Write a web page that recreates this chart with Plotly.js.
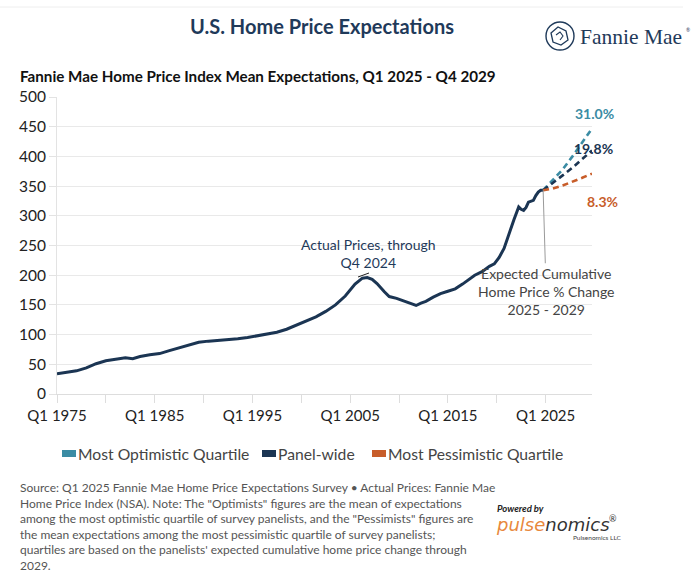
<!DOCTYPE html>
<html>
<head>
<meta charset="utf-8">
<script src="https://cdn.plot.ly/plotly-3.0.1.min.js"></script>
<style>
  html, body { margin: 0; padding: 0; background: #ffffff; }
  #chart { width: 699px; height: 579px; }
</style>
</head>
<body>
<div id="chart"></div>
<script>
// ---------------- DATA ----------------
// Actual Fannie Mae Home Price Index (NSA) (x = year + (quarter-1)/4)
const histYears = [1975.0, 1976.0, 1977.0, 1978.0, 1979.0, 1980.0, 1981.0, 1982.0, 1982.75, 1983.5,
  1984.5, 1985.5, 1986.5, 1987.5, 1988.5, 1989.5, 1990.5, 1991.5, 1992.5, 1993.5,
  1994.5, 1995.5, 1996.5, 1997.5, 1998.5, 1999.5, 2000.5, 2001.5, 2002.5, 2003.5,
  2004.5, 2005.5, 2006.25, 2006.75, 2007.25, 2007.75, 2008.5, 2009.0, 2009.75, 2010.5,
  2011.0, 2011.75, 2012.25, 2012.75, 2013.5, 2014.25, 2015.0, 2015.75, 2016.5, 2017.25,
  2017.75, 2018.5, 2019.25, 2019.75, 2020.25, 2020.75, 2021.25, 2021.75, 2022.25, 2022.5,
  2022.75, 2023.0, 2023.25, 2023.75, 2024.0, 2024.25, 2024.5, 2024.75];
const histValues = [34, 36, 39, 44, 51, 56, 59, 61, 59.5, 63,
  66, 68, 73, 78, 82, 87, 89, 90, 91, 93,
  95, 98, 100, 104, 109, 116, 123, 130, 139, 150,
  165, 185, 195, 196, 193, 186, 172, 164, 161, 156,
  153, 149, 153, 156, 163, 169, 173, 177, 185, 194,
  200, 206, 215, 219, 230, 245, 270, 293, 315, 311,
  309, 314, 323, 326, 334, 340, 343, 343];

// Expectations Q4 2024 -> Q4 2029
const fcYears = [2024.75, 2025.75, 2026.75, 2027.75, 2028.75, 2029.75];
const optimisticValues = [343, 360, 378, 400, 423, 447];
const panelValues = [343, 355, 368, 381, 395, 410];
const pessimisticValues = [343, 346, 351, 357, 364, 371];

const seriesNames = ["Most Optimistic Quartile", "Panel-wide", "Most Pessimistic Quartile"];
const pctLabels = ["31.0%", "19.8%", "8.3%"];

const tickYears = [1975, 1980, 1985, 1990, 1995, 2000, 2005, 2010, 2015, 2020, 2025];
const tickLabels = ["Q1 1975", "", "Q1 1985", "", "Q1 1995", "", "Q1 2005", "", "Q1 2015", "", "Q1 2025"];

// ---------------- STYLE ----------------
const TEAL = "#3b8ca4", NAVY = "#1b3553", ORANGE = "#c85d2a";
const colors = [TEAL, NAVY, ORANGE];
const FONT = "Lato, 'Source Sans Pro', Roboto, sans-serif";

const W = 699, H = 579;
const M = { l: 57, r: 107, t: 97, b: 185 };
const PW = W - M.l - M.r, PH = H - M.t - M.b;
const px = v => (v - M.l) / PW;           // pixel x -> paper x
const py = v => (H - M.b - v) / PH;       // pixel y -> paper y

// ---------------- TRACES ----------------
const traces = [
  { x: histYears, y: histValues, type: "scatter", mode: "lines",
    line: { color: NAVY, width: 3 }, showlegend: false, hoverinfo: "skip" }
];
const fcSeries = [optimisticValues, panelValues, pessimisticValues];
fcSeries.forEach((vals, i) => {
  traces.push({ x: fcYears, y: vals, type: "scatter", mode: "lines", name: seriesNames[i],
    line: { color: colors[i], width: 2.6, dash: "6px,4px" }, showlegend: false, hoverinfo: "skip" });
});

// ---------------- ANNOTATIONS ----------------
const ann = [];
ann.push({ xref: "paper", yref: "paper", x: px(322), y: py(26), xanchor: "center", yanchor: "middle",
  text: "<b>U.S. Home Price Expectations</b>", showarrow: false,
  font: { family: FONT, size: 20, color: "#1f3a5a" } });
ann.push({ xref: "paper", yref: "paper", x: px(18), y: py(76), xanchor: "left", yanchor: "middle",
  text: "<b>Fannie Mae Home Price Index Mean Expectations, Q1 2025 - Q4 2029</b>", showarrow: false,
  font: { family: FONT, size: 15.2, color: "#111111" } });
ann.push({ xref: "paper", yref: "paper", x: px(368), y: py(254), xanchor: "center", yanchor: "middle",
  text: "Actual Prices, through<br>Q4 2024", showarrow: false,
  font: { family: FONT, size: 14, color: "#1f3a5a" } });
const lastI = histYears.length - 1;
ann.push({ xref: "x", yref: "y", x: histYears[lastI], y: histValues[lastI],
  text: "Expected Cumulative<br>Home Price % Change<br>2025 - 2029",
  showarrow: true, arrowhead: 0, arrowwidth: 1, arrowcolor: "#9a9a9a", standoff: 0,
  axref: "pixel", ayref: "pixel", ax: 3, ay: 101,
  font: { family: FONT, size: 14, color: "#444444" } });
// percentage labels
const pctPos = [[594, 113], [593, 148], [602, 201]];
pctLabels.forEach((t, i) => {
  ann.push({ xref: "paper", yref: "paper", x: px(pctPos[i][0]), y: py(pctPos[i][1]),
    xanchor: "center", yanchor: "middle", text: "<b>" + t + "</b>", showarrow: false,
    font: { family: FONT, size: 14, color: colors[i] } });
});
// custom legend
const legX = [62, 262, 372];
const shapes = [];
seriesNames.forEach((n, i) => {
  shapes.push({ type: "rect", xref: "paper", yref: "paper",
    x0: px(legX[i]), x1: px(legX[i] + 14), y0: py(457), y1: py(450),
    fillcolor: colors[i], line: { width: 0 } });
  ann.push({ xref: "paper", yref: "paper", x: px(legX[i] + 14), y: py(454),
    xanchor: "left", yanchor: "middle", text: n, showarrow: false,
    font: { family: FONT, size: 15.7, color: "#444444" } });
});
// footnote
ann.push({ xref: "paper", yref: "paper", x: px(18), y: py(478), xanchor: "left", yanchor: "top",
  align: "left", showarrow: false,
  text: "Source: Q1 2025 Fannie Mae Home Price Expectations Survey \u2022 Actual Prices: Fannie Mae<br>" +
        "Home Price Index (NSA). Note: The \"Optimists\" figures are the mean of expectations<br>" +
        "among the most optimistic quartile of survey panelists, and the \"Pessimists\" figures are<br>" +
        "the mean expectations among the most pessimistic quartile of survey panelists;<br>" +
        "quartiles are based on the panelists' expected cumulative home price change through<br>" +
        "2029.",
  font: { family: FONT, size: 12, color: "#555555" } });
// Fannie Mae logo text
ann.push({ xref: "paper", yref: "paper", x: px(578), y: py(37), xanchor: "left", yanchor: "middle",
  text: "Fannie Mae", showarrow: false,
  font: { family: "'Liberation Serif', 'DejaVu Serif', serif", size: 21.5, color: "#1f3a5a" } });
ann.push({ xref: "paper", yref: "paper", x: px(684), y: py(30), xanchor: "left", yanchor: "middle",
  text: "\u00ae", showarrow: false, font: { family: FONT, size: 5, color: "#1f3a5a" } });
// Pulsenomics logo
ann.push({ xref: "paper", yref: "paper", x: px(495), y: py(508), xanchor: "left", yanchor: "middle",
  text: "<b><i>Powered by</i></b>", showarrow: false, font: { family: FONT, size: 9.5, color: "#222" } });
ann.push({ xref: "paper", yref: "paper", x: px(494), y: py(524), xanchor: "left", yanchor: "middle",
  text: "<i><span style='color:#e8883c'>pulse</span>nomics</i>", showarrow: false,
  font: { family: "'DejaVu Sans', sans-serif", size: 18, color: "#333333" } });
ann.push({ xref: "paper", yref: "paper", x: px(607), y: py(518), xanchor: "left", yanchor: "middle",
  text: "\u00ae", showarrow: false, font: { family: FONT, size: 9, color: "#333" } });
ann.push({ xref: "paper", yref: "paper", x: px(571), y: py(537), xanchor: "left", yanchor: "middle",
  text: "Pulsenomics LLC", showarrow: false, font: { family: FONT, size: 6.5, color: "#444" } });

// ---------------- SHAPES ----------------
// faint top separator
shapes.push({ type: "line", xref: "paper", yref: "paper", x0: px(0), x1: px(683), y0: py(7), y1: py(7),
  line: { color: "#eeeeee", width: 1 } });
// small pointer under "Q4 2024"
shapes.push({ type: "line", xref: "paper", yref: "paper", x0: px(358), x1: px(369), y0: py(277), y1: py(273),
  line: { color: "#222222", width: 1 } });
// Fannie Mae emblem: circle + stylised house
shapes.push({ type: "circle", xref: "paper", yref: "paper", x0: px(546), x1: px(574), y0: py(50), y1: py(22),
  line: { color: "#1f3a5a", width: 1.4 } });
const hp = [[551, 33], [558, 27], [566, 31], [568, 40], [561, 45], [553, 42]]
  .map((p, k) => (k ? "L" : "M") + px(p[0]) + "," + py(p[1])).join(" ") + " Z";
shapes.push({ type: "path", xref: "paper", yref: "paper", path: hp, line: { color: "#1f3a5a", width: 1.3 } });
const hp2 = [[556, 35], [560, 32], [563, 36], [560, 40]]
  .map((p, k) => (k ? "L" : "M") + px(p[0]) + "," + py(p[1])).join(" ");
shapes.push({ type: "path", xref: "paper", yref: "paper", path: hp2, line: { color: "#1f3a5a", width: 1.1 } });

// ---------------- LAYOUT ----------------
const layout = {
  width: W, height: H,
  margin: M,
  paper_bgcolor: "#ffffff", plot_bgcolor: "#ffffff",
  showlegend: false,
  font: { family: FONT, color: "#222222" },
  xaxis: {
    type: "linear", range: [1975, 2029.75], fixedrange: true,
    tickvals: tickYears, ticktext: tickLabels,
    ticks: "outside", ticklen: 8, tickcolor: "#dddddd", tickwidth: 1,
    showgrid: false, zeroline: false,
    showline: true, linecolor: "#dddddd", linewidth: 1,
    tickfont: { family: FONT, size: 15, color: "#222222" }
  },
  yaxis: {
    range: [0, 500], dtick: 50, tick0: 0, fixedrange: true,
    ticks: "outside", ticklen: 7, tickcolor: "#e3e3e3",
    showgrid: true, gridcolor: "#e9e9e9", gridwidth: 1, zeroline: false,
    showline: true, linecolor: "#e3e3e3", linewidth: 1,
    tickfont: { family: FONT, size: 15.5, color: "#222222" }
  },
  annotations: ann,
  shapes: shapes
};

Plotly.newPlot("chart", traces, layout, { staticPlot: true, displayModeBar: false });
</script>
</body>
</html>
